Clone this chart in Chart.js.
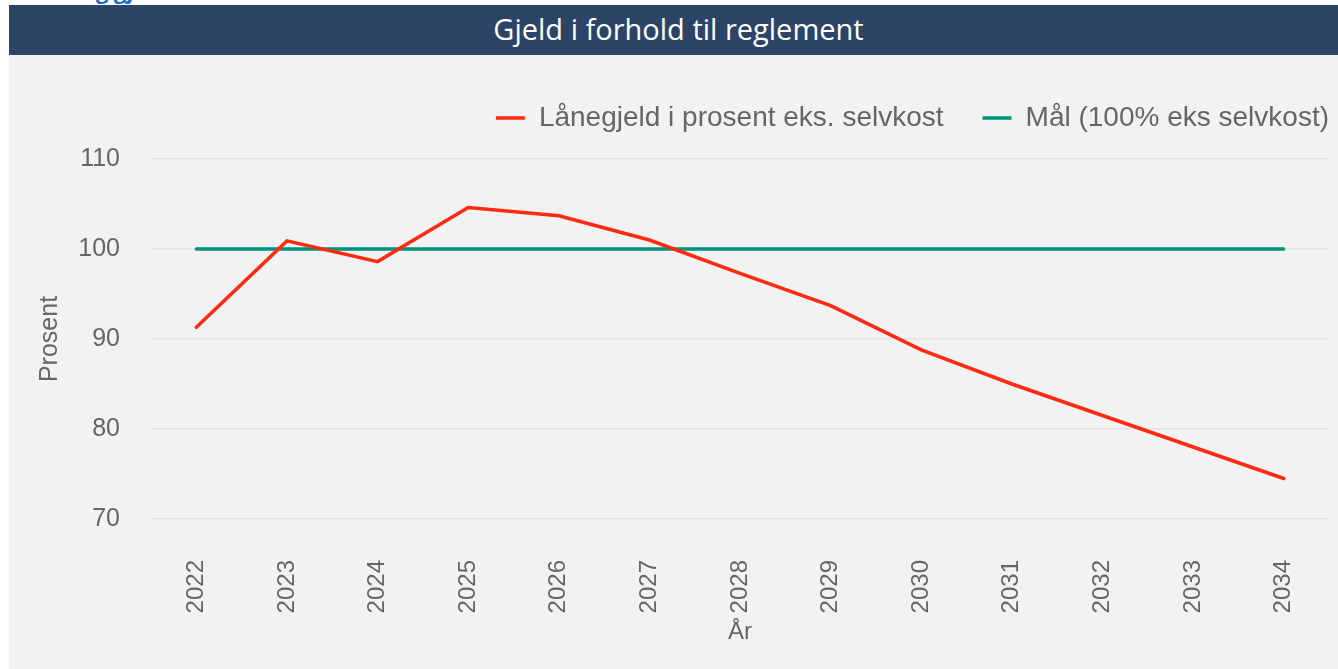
<!DOCTYPE html>
<html>
<head>
<meta charset="utf-8">
<script src="https://cdn.jsdelivr.net/npm/chart.js@4"></script>
<style>
  html, body { margin: 0; padding: 0; background: #ffffff; }
  body { width: 1338px; height: 669px; position: relative; overflow: hidden; }
  .heading {
    position: absolute; left: 9px; top: -25px;
    font-family: "Open Sans", sans-serif; font-weight: 700; font-size: 22px;
    line-height: 30px; color: #1a6cc0; white-space: nowrap;
  }
  .banner {
    position: absolute; left: 9px; top: 5px; width: 1319px; height: 50px;
    padding-left: 10px;
    background: #2c4466; color: #ffffff;
    font-family: "Open Sans", sans-serif; font-size: 29px;
    line-height: 48px; text-align: center;
  }
  .panel {
    position: absolute; left: 9px; top: 55px; width: 1329px; height: 614px;
    background: #f2f2f2;
  }
</style>
</head>
<body>
<div class="heading">Utvikling gjeld</div>
<div class="banner">Gjeld i forhold til reglement</div>
<div class="panel"><canvas id="myChart" width="1329" height="614"></canvas></div>
<script>
const years = ['2022', '2023', '2024', '2025', '2026', '2027', '2028', '2029', '2030', '2031', '2032', '2033', '2034']
const laanegjeld = [91.3, 100.9, 98.6, 104.6, 103.7, 101.0, 97.3, 93.7, 88.8, 85.0, 81.5, 78.0, 74.5]
const maal = [100, 100, 100, 100, 100, 100, 100, 100, 100, 100, 100, 100, 100]
const yTicks = [70, 80, 90, 100, 110]

const textColor = '#666666'
const fontFamily = '"Liberation Sans", Arial, sans-serif'

// extra room under the legend, and legend pushed out to the right edge
const legendSpacing = {
  id: 'legendSpacing',
  beforeInit(chart) {
    const fit = chart.legend.fit
    chart.legend.fit = function () {
      fit.bind(chart.legend)()
      this.height += 19
    }
  },
  beforeDraw(chart) {
    chart.legend.right += 39
    chart.legend.top += 2
  },
}

const data = {
  labels: years,
  datasets: [
    {
      label: 'Lånegjeld i prosent eks. selvkost',
      data: laanegjeld,
      borderColor: '#ff2a10',
      backgroundColor: '#ff2a10',
      borderWidth: 3.5,
      borderCapStyle: 'round',
      pointRadius: 0,
      tension: 0,
    },
    {
      label: 'Mål (100% eks selvkost)',
      data: maal,
      borderColor: '#00927c',
      backgroundColor: '#00927c',
      borderWidth: 3.5,
      borderCapStyle: 'round',
      pointRadius: 0,
      tension: 0,
    },
  ],
}

var ctx = document.getElementById('myChart').getContext('2d')
var myChart = new Chart(ctx, {
  type: 'line',
  data: data,
  plugins: [legendSpacing],
  options: {
    responsive: false,
    animation: false,
    layout: {
      padding: { left: 0, right: 9, top: 8, bottom: 0 },
    },
    plugins: {
      tooltip: { enabled: false },
      legend: {
        position: 'top',
        align: 'end',
        labels: {
          color: textColor,
          font: { family: fontFamily, size: 28 },
          boxWidth: 29,
          boxHeight: 0,
          padding: 39,
        },
      },
    },
    scales: {
      x: {
        offset: true,
        afterFit: function (scale) {
          scale.height = 150
          scale.paddingLeft = 0
          scale.paddingRight = 0
        },
        grid: { display: false, drawTicks: false },
        border: { display: false },
        ticks: {
          color: textColor,
          font: { family: fontFamily, size: 24 },
          minRotation: 90,
          maxRotation: 90,
          padding: 41,
        },
        title: {
          display: true,
          text: 'År',
          color: textColor,
          font: { family: fontFamily, size: 24 },
          padding: { top: 0, bottom: 22 },
        },
      },
      y: {
        min: 70,
        max: 110,
        afterBuildTicks: function (scale) {
          scale.ticks = yTicks.map(function (v) { return { value: v } })
        },
        afterFit: function (scale) {
          scale.width = 142
        },
        grid: { color: '#e2e2e2', lineWidth: 1.5, drawTicks: false },
        border: { display: false },
        ticks: {
          color: textColor,
          font: { family: fontFamily, size: 25 },
          padding: 31,
        },
        title: {
          display: true,
          text: 'Prosent',
          color: textColor,
          font: { family: fontFamily, size: 25 },
          padding: { top: 26, bottom: 0 },
        },
      },
    },
  },
})
</script>
</body>
</html>
